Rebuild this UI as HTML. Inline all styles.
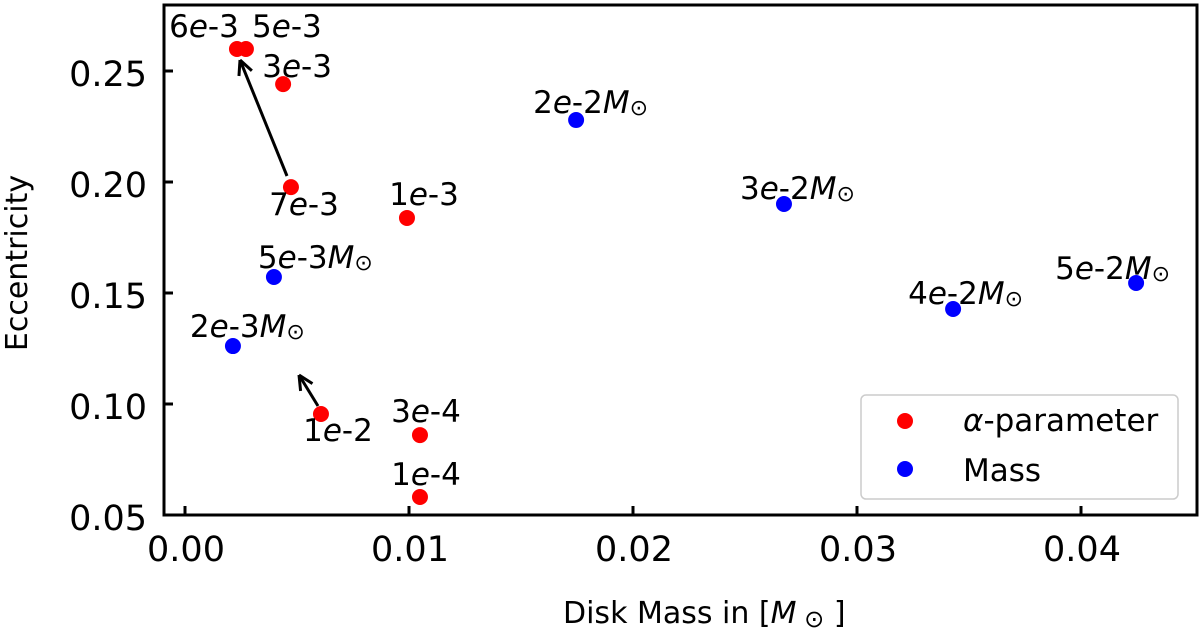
<!DOCTYPE html>
<html><head><meta charset="utf-8"><style>
html,body{margin:0;padding:0;background:#fff;width:1200px;height:638px;overflow:hidden}
svg{font-family:"DejaVu Sans","Liberation Sans",sans-serif}
</style></head><body>
<svg id="chart" width="1200" height="638">
</svg>
<script>
const alphaLabels=["6","5","3","7","1","1","3","1"];
const alphaExp=["-3","-3","-3","-3","-3","-2","-4","-4"];
const alphaX=[0.00232,0.00272,0.00438,0.00473,0.00991,0.00607,0.01049,0.01049];
const alphaY=[0.2599,0.2599,0.2441,0.1977,0.1838,0.0955,0.0860,0.0581];
const massLabels=["2","5","2","3","4","5"];
const massExp=["-3","-3","-2","-2","-2","-2"];
const massX=[0.00214,0.00397,0.01746,0.02674,0.03429,0.04246];
const massY=[0.1261,0.1572,0.2279,0.1901,0.1428,0.1545];
const xTicks=[0,0.01,0.02,0.03,0.04];
const xTickLabels=["0.00","0.01","0.02","0.03","0.04"];
const yTicks=[0.05,0.10,0.15,0.20,0.25];
const yTickLabels=["0.05","0.10","0.15","0.20","0.25"];
const NS="http://www.w3.org/2000/svg";
const L=164,R=1197,T=5,B=515;
const sx=v=>185+v*22400;
const sy=v=>515-(v-0.05)*2220;
const svg=document.getElementById('chart');
function mk(tag,attrs,parent,text){const e=document.createElementNS(NS,tag);for(const k in attrs)e.setAttribute(k,attrs[k]);if(text!==undefined)e.textContent=text;(parent||svg).appendChild(e);return e;}
const frame=mk('rect',{x:L,y:T,width:R-L,height:B-T,fill:'none',stroke:'#000','stroke-width':3});


xTicks.forEach((t,i)=>{
  const tk=mk('line',{x1:sx(t),x2:sx(t),y1:B,y2:B-9,stroke:'#000','stroke-width':3});
  
  
  const lb=mk('text',{x:sx(t)+1,y:561,'text-anchor':'middle','font-size':35},svg,xTickLabels[i]);
  
  
});
yTicks.forEach((t,i)=>{
  const tk=mk('line',{x1:L,x2:L+9,y1:sy(t),y2:sy(t),stroke:'#000','stroke-width':3});
  
  
  const lb=mk('text',{x:147,y:sy(t)+15,'text-anchor':'end','font-size':35},svg,yTickLabels[i]);
  
  
});
const xt=mk('text',{x:563,y:623,'font-size':30},svg);
xt.innerHTML='Disk Mass in [<tspan font-style="italic">M</tspan><tspan font-size="24" dy="4"> ⊙</tspan><tspan dy="-4"> ]</tspan>';


const yt=mk('text',{x:27,y:263,'text-anchor':'middle','font-size':30,transform:'rotate(-90 27 263)'},svg,'Eccentricity');


function arrow(x1,y1,x2,y2){
  const g=mk('g',{stroke:'#000','stroke-width':3,fill:'none'});
  
  
  mk('line',{x1,y1,x2,y2},g);
  const a=Math.atan2(y2-y1,x2-x1),h=16;
  [0.45,-0.45].forEach(d=>mk('line',{x1:x2,y1:y2,x2:x2-h*Math.cos(a+d),y2:y2-h*Math.sin(a+d)},g));
}
arrow(287,176,240,60);
arrow(318,406,299,375);
const aOff=[[-33,-12],[41,-12],[14,-7],[13,28],[17,-13],[17,27],[6,-13],[6,-12]];
const mOff=[[-43,-9],[-16,-9],[-43,-7],[-44,-5],[-45,-5],[-81,-4]];
function lab(x,y,anchor,num,exp,mass){
  const t=mk('text',{x,y,'text-anchor':anchor,'font-size':31},svg);
  t.innerHTML=num+'<tspan font-style="italic">e</tspan>'+exp+(mass?'<tspan font-style="italic">M</tspan><tspan font-size="22" dy="2">⊙</tspan>':'');
  
  
}
alphaX.forEach((v,i)=>{
  const c=mk('circle',{cx:sx(v),cy:sy(alphaY[i]),r:8,fill:'#ff0000'});
  
  
  lab(sx(v)+aOff[i][0],sy(alphaY[i])+aOff[i][1],'middle',alphaLabels[i],alphaExp[i],false);
});
massX.forEach((v,i)=>{
  const c=mk('circle',{cx:sx(v),cy:sy(massY[i]),r:8,fill:'#0000ff'});
  
  
  lab(sx(v)+mOff[i][0],sy(massY[i])+mOff[i][1],'start',massLabels[i],massExp[i],true);
});
const lg=mk('g',{});


mk('rect',{x:861,y:395,width:317,height:104,rx:5,fill:'#fff',stroke:'#ccc','stroke-width':1.5},lg);
const e1=mk('g',{},lg);


mk('circle',{cx:905,cy:421,r:8,fill:'#ff0000'},e1);
const t1=mk('text',{x:963,y:431,'font-size':31},e1);
t1.innerHTML='<tspan font-style="italic">α</tspan>-parameter';
const e2=mk('g',{},lg);


mk('circle',{cx:905,cy:469,r:8,fill:'#0000ff'},e2);
mk('text',{x:963,y:481,'font-size':31},e2,'Mass');
</script>
</body></html>
